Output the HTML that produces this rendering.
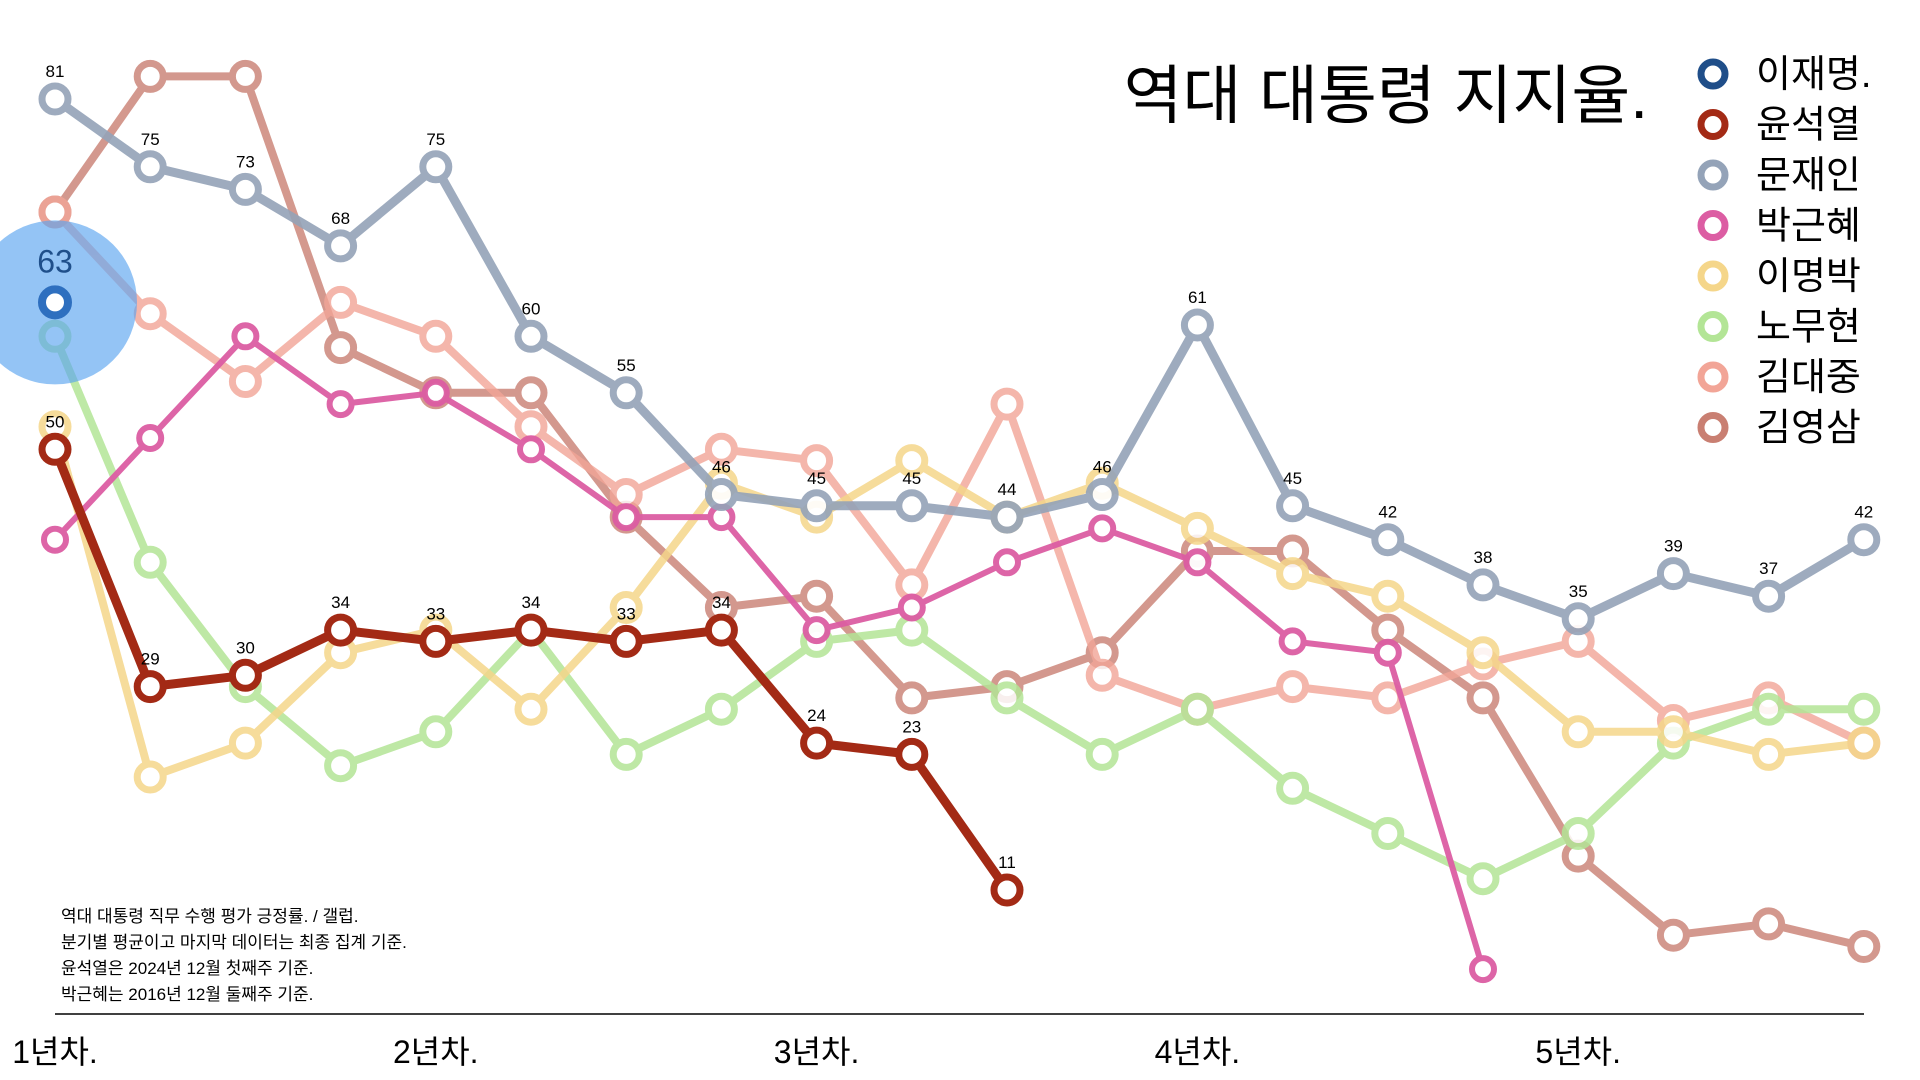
<!DOCTYPE html>
<html><head><meta charset="utf-8">
<style>
html,body{margin:0;padding:0;background:#fff;}
svg{display:block;font-family:"Liberation Sans","Noto Sans CJK KR",sans-serif;}
</style></head>
<body>
<svg id="chart" width="1920" height="1080" viewBox="0 0 1920 1080">
  <g id="series-layer"></g>
  <g id="label-layer"></g>
  <text x="1648" y="118" text-anchor="end" font-size="64" fill="#000">역대 대통령 지지율.</text>
  <g id="legend"></g>
  <line x1="55" y1="1014" x2="1864" y2="1014" stroke="#000" stroke-width="1.5"/>
  <g id="x-ticks"></g>
  <g font-size="17" fill="#000">
    <text x="61" y="922">역대 대통령 직무 수행 평가 긍정률. / 갤럽.</text>
    <text x="61" y="948">분기별 평균이고 마지막 데이터는 최종 집계 기준.</text>
    <text x="61" y="974">윤석열은 2024년 12월 첫째주 기준.</text>
    <text x="61" y="1000">박근혜는 2016년 12월 둘째주 기준.</text>
  </g>
</svg>
<script>
const presidents = ["이재명.","윤석열","문재인","박근혜","이명박","노무현","김대중","김영삼"];
const leeJM = [63];
const yoon = [50,29,30,34,33,34,33,34,24,23,11];
const moon = [81,75,73,68,75,60,55,46,45,45,44,46,61,45,42,38,35,39,37,42];
const park = [42,51,60,54,55,50,44,44,34,36,40,43,40,33,32,4];
const leeMB = [52,21,24,32,34,27,36,47,44,49,44,47,43,39,37,32,25,25,23,24];
const roh = [60,40,29,22,25,34,23,27,33,34,28,23,27,20,16,12,16,24,27,27];
const kimDJ = [71,62,56,63,60,52,46,50,49,38,54,30,27,29,28,31,33,26,28,24];
const kimYS = [71,83,83,59,55,55,44,36,37,28,29,32,41,41,34,28,14,7,8,6];
const xTickLabels = ["1년차.","2년차.","3년차.","4년차.","5년차."];
const xTickQuarters = [0,4,8,12,16];

const NS="http://www.w3.org/2000/svg";
function xScale(q){ return 55 + q*95.2; }
function yScale(v){ return 99 + (81 - v)*11.3; }
function mk(tag, attrs, parent){ const e=document.createElementNS(NS,tag); for(const k in attrs) e.setAttribute(k,attrs[k]); parent.appendChild(e); return e; }

const seriesLayer=document.getElementById('series-layer');
const labelLayer=document.getElementById('label-layer');

const drawOrder=[
  {key:"kim-ys",data:kimYS,color:"#c97f72",op:0.8,w:8},
  {key:"kim-dj",data:kimDJ,color:"#f2a597",op:0.8,w:8},
  {key:"roh",data:roh,color:"#b3e596",op:0.85,w:8},
  {key:"lee-mb",data:leeMB,color:"#f5d68a",op:0.85,w:8},
  {key:"park",data:park,color:"#dc5da3",op:0.95,w:6},
  {key:"moon",data:moon,color:"#94a3b8",op:0.9,w:9,labels:true},
  {key:"yoon",data:yoon,color:"#a32a15",op:1,w:9,labels:true}
];

drawOrder.forEach(s=>{
  const g=mk('g',{},seriesLayer);
  
  
  g.setAttribute('opacity', s.op);
  const pts=s.data.map((v,i)=>xScale(i)+','+yScale(v)).join(' ');
  const line=mk('polyline',{points:pts,fill:'none',stroke:s.color,'stroke-width':s.w,'stroke-linejoin':'round'},g);
  
  
  s.data.forEach((v,i)=>{
    const c=mk('circle',{cx:xScale(i),cy:yScale(v),r:s.key==='park'?11:13,fill:'#fff',stroke:s.color,'stroke-width':s.key==='park'?6:7},g);
    
    
    if(s.labels){
      const t=mk('text',{x:xScale(i),y:yScale(v)-22,'text-anchor':'middle','font-size':17,fill:'#000'},labelLayer);
      
      
      t.textContent=v;
    }
  });
});

// 이재명 highlight
const hl=mk('circle',{cx:xScale(0),cy:yScale(leeJM[0]),r:82,fill:'#5aa4f0','fill-opacity':0.65},seriesLayer);


const lp=mk('circle',{cx:xScale(0),cy:yScale(leeJM[0]),r:13,fill:'#fff',stroke:'#2e6fbf','stroke-width':8},seriesLayer);


const lt=mk('text',{x:xScale(0),y:yScale(leeJM[0])-30,'text-anchor':'middle','font-size':32,fill:'#1f4f8a'},labelLayer);


lt.textContent=leeJM[0];

// legend
const legendColors=["#1f4e89","#a32a15","#94a3b8","#dc5da3","#f5d68a","#b3e596","#f2a597","#c97f72"];
const legend=document.getElementById('legend');
presidents.forEach((name,i)=>{
  const y=74+i*50.5;
  const g=mk('g',{},legend);
  
  
  mk('circle',{cx:1713,cy:y,r:12,fill:'#fff',stroke:legendColors[i],'stroke-width':7},g);
  const t=mk('text',{x:1756,y:y+13,'font-size':38,fill:'#000'},g);
  t.textContent=name;
});

// x ticks
const xt=document.getElementById('x-ticks');
xTickLabels.forEach((lab,i)=>{
  const t=mk('text',{x:xScale(xTickQuarters[i]),y:1063,'text-anchor':'middle','font-size':32,fill:'#000'},xt);
  
  
  t.textContent=lab;
});
</script>
</body></html>
